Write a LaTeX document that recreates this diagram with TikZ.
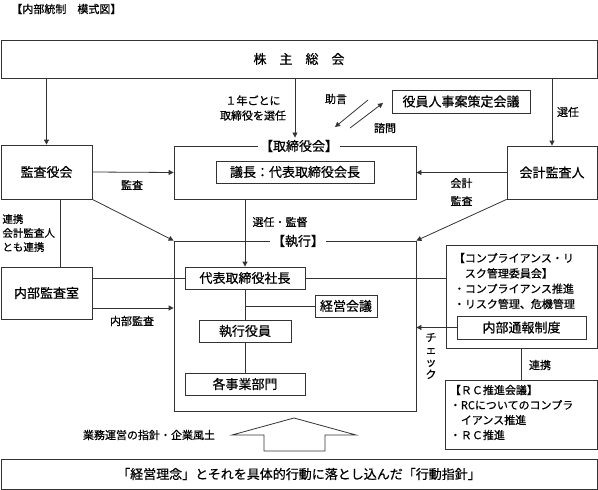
\documentclass[tikz,border=0pt]{standalone}
\usepackage{fontspec}
\setmainfont{Noto Sans CJK JP}[FakeBold=0.6]
\usetikzlibrary{arrows.meta}
\newcommand{\fbig}{\fontsize{13}{15}\selectfont}
\newcommand{\fsmall}{\fontsize{11}{15}\selectfont}

\begin{document}
\begin{tikzpicture}[x=1pt, y=-1pt, line width=0.8pt,
  >={Triangle[length=5pt, width=5pt]},
  ln/.style={black!80},
  box/.style={draw=black!80, inner sep=0pt, font=\fbig},
  tag/.style={fill=white, inner sep=2pt, font=\fbig},
  lbl/.style={inner sep=0pt, font=\fsmall}]
\useasboundingbox (0,0) rectangle (598,490);

\node[lbl, anchor=west] (title) at (11,9) {【内部統制　模式図】};

% boxes
\node[box, minimum width=596, minimum height=38] (kabunushi) at (299,59) {株　主　総　会};
\node[box, minimum width=91, minimum height=54] (kansayaku) at (46.5,172) {監査役会};
\node[box, minimum width=242, minimum height=53] (torishimari) at (295,172.5) {};
\node[tag] (torishimari-tag) at (299,146) {【取締役会】};
\node[box, minimum width=158, minimum height=22] (gicho) at (295,172) {議長：代表取締役会長};
\node[box, minimum width=138, minimum height=23] (jinji) at (461,101.5) {役員人事案策定会議};
\node[box, minimum width=90, minimum height=53] (kaikei) at (552,172.5) {会計監査人};
\node[box, minimum width=91, minimum height=52] (naibu) at (46.5,293) {内部監査室};
\node[box, minimum width=242, minimum height=170] (shikko) at (295,326) {};
\node[tag] (shikko-tag) at (298,241) {【執行】};
\node[box, minimum width=120, minimum height=22] (shacho) at (245,278) {代表取締役社長};
\node[box, minimum width=62, minimum height=22] (keiei) at (346,306) {経営会議};
\node[box, minimum width=92, minimum height=22] (yakuin) at (245,331) {執行役員};
\node[box, minimum width=120, minimum height=22] (jigyo) at (245,384) {各事業部門};
\node[box, minimum width=151, minimum height=103] (comp) at (521.5,296.5) {};
\node[lbl, anchor=west, align=left, font=\fontsize{11}{15.3}\selectfont] (comp-txt) at (453.5,281)
  {【コンプライアンス・リ\\\hspace*{1em}スク管理委員会】\\・コンプライアンス推進\\・リスク管理、危機管理};
\node[box, minimum width=129, minimum height=23] (tsuho) at (521.5,327.5) {内部通報制度};
\node[box, minimum width=152, minimum height=69] (rc) at (521,414.5) {};
\node[lbl, anchor=west, align=left] (rc-txt) at (449.5,412.5)
  {【ＲＣ推進会議】\\・RCについてのコンプラ\\\hspace*{1em}イアンス推進\\・ＲＣ推進};
\node[box, minimum width=596, minimum height=30] (rinen) at (299,474) {「経営理念」とそれを具体的行動に落とし込んだ「行動指針」};

% big arrow
\draw[ln] (264,451) -- (264,435) -- (232,435) -- (294,418) -- (356,435) -- (325,435) -- (325,451) -- cycle;
\node[lbl] (fudo-lbl) at (149,435) {業務運営の指針・企業風土};

% connectors
\draw[ln,->] (kabunushi.south -| kansayaku.north) -- (kansayaku.north);
\draw[ln,->] (kabunushi.south -| torishimari.north) -- (torishimari-tag.north -| torishimari.north);
\draw[ln,->] (kabunushi.south -| kaikei.north) -- (kaikei.north);
\draw[ln,->] (kansayaku.east) -- (torishimari.west);
\draw[ln,->] (kaikei.west) -- (torishimari.east);
\draw[ln] ([xshift=13.5pt]kansayaku.south) -- ([xshift=13.5pt]naibu.north);
\draw[ln,->] (kansayaku.south east) -- (shikko.north west);
\draw[ln,->] (kaikei.south west) -- (shikko.north east);
\draw[ln,->] (torishimari.south -| shacho.north) -- (shacho.north);
\draw[ln] (naibu.east |- shacho.west) -- (shacho.west);
\draw[ln,->] ([yshift=-15pt]naibu.east) coordinate (naibu-out) -- (naibu-out -| shikko.west);
\draw[ln] (shacho.east) -- (shacho.east -| comp.west);
\draw[ln] (shacho.south) -- (yakuin.north);
\draw[ln] (shacho.south |- keiei.west) -- (keiei.west);
\draw[ln] (yakuin.south) -- (jigyo.north);
\draw[ln,->] (tsuho.west) -- (tsuho.west -| shikko.east);
\draw[ln] (comp.south) -- (comp.south |- rc.north);

\coordinate (jogen-a) at (368,100);
\coordinate (jogen-b) at (335,127);
\coordinate (shimon-a) at (350,128);
\coordinate (shimon-b) at (383,103);
\draw[ln,->] (jogen-a) -- (jogen-b);
\draw[ln,->] (shimon-a) -- (shimon-b);

% labels
\node[lbl, align=center] (sennin-lbl) at (253,108) {１年ごとに\\取締役を選任};
\node[lbl] (jogen-lbl) at (336,99) {助言};
\node[lbl] (shimon-lbl) at (385,128) {諮問};
\node[lbl] (sennin2-lbl) at (568,112) {選任};
\node[lbl] (kansa-lbl) at (132,185) {監査};
\node[lbl, align=center, font=\fontsize{11}{18}\selectfont] (kaikei-lbl) at (461.5,192) {会計\\監査};
\node[lbl, anchor=west, align=left, font=\fontsize{10.5}{14}\selectfont] (renkei-lbl) at (2,233) {連携\\会計監査人\\とも連携};
\node[lbl] (kantoku-lbl) at (280,222) {選任・監督};
\node[lbl] (naibukansa-lbl) at (132,321) {内部監査};
\node[lbl, align=center, font=\fontsize{11}{12.3}\selectfont] (check-lbl) at (431,356) {チ\\ェ\\ッ\\ク};
\node[lbl] (renkei2-lbl) at (540,365) {連携};
\end{tikzpicture}
\end{document}
